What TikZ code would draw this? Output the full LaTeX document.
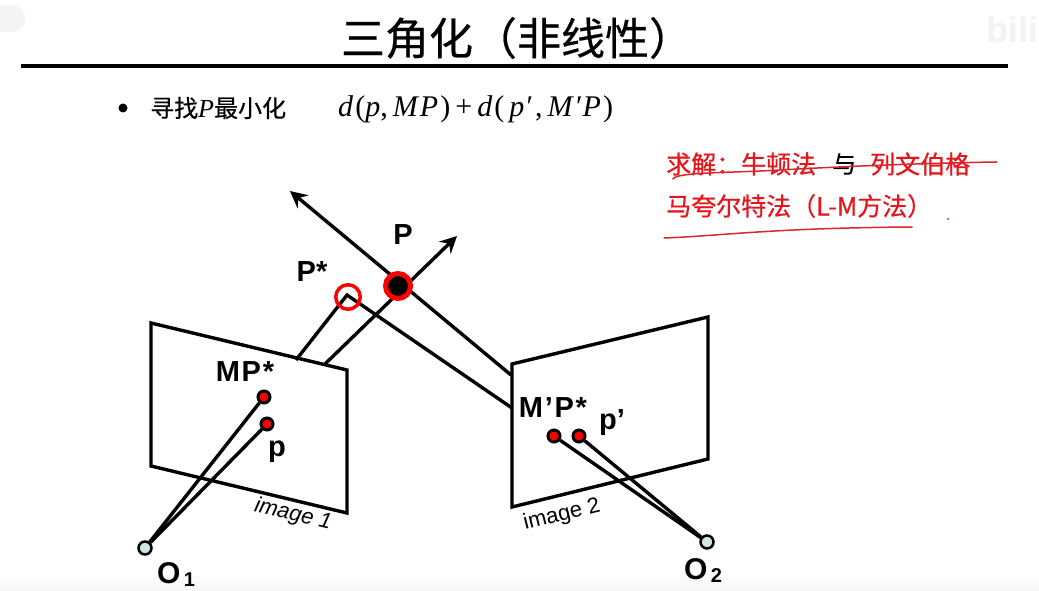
\documentclass[tikz,border=0pt]{standalone}
\usepackage{fontspec}
\setmainfont{Noto Sans CJK SC}
\newfontfamily\heavycn[FakeBold=0.5]{Noto Sans CJK SC}
\newfontfamily\labelfont{Liberation Sans}
\newfontfamily\spacedfont[LetterSpace=6]{Liberation Sans}
\newfontfamily\formulafont[LetterSpace=7]{Liberation Serif}
\newfontfamily\italicp{Liberation Serif}
\usetikzlibrary{arrows.meta,shapes.geometric}
\definecolor{inkred}{HTML}{E8141C}
\definecolor{strokered}{HTML}{D8282C}
\definecolor{camfill}{HTML}{CFE6E6}
\newcommand{\fsz}[1]{\fontsize{#1pt}{#1pt}\selectfont}
\tikzset{
  x=1pt,y=-1pt,
  wire/.style={draw=black,line width=3.4pt,line join=miter},
  ray/.style={wire,-{Stealth[length=17pt,width=17pt,inset=6pt]}},
  imagedot/.style={circle,draw=black,fill=red,line width=3pt,minimum size=12pt,inner sep=0pt},
  camdot/.style={circle,draw=black,fill=camfill,line width=2.5pt,minimum size=13pt,inner sep=0pt},
  tag/.style={inner sep=0pt,font=\labelfont\bfseries\fsz{29}},
  widetag/.style={inner sep=0pt,font=\spacedfont\bfseries\fsz{29}},
  imgtag/.style={inner sep=0pt,font=\labelfont\itshape\fsz{22}},
  cn/.style={inner sep=0pt,anchor=west,font=\heavycn\fsz{24}},
  redcn/.style={inner sep=0pt,anchor=west,text=inkred,font=\heavycn\fsz{25}},
  stroke/.style={draw=strokered,line width=1.5pt,line cap=round},
}
\begin{document}
\begin{tikzpicture}
\useasboundingbox (0,0) rectangle (1039,591);
\fill[white] (0,0) rectangle (1039,591);
\shade[top color=white,bottom color=black!4,draw=none] (0,572) rectangle (1039,591);
\fill[black!4] (-20,5) rectangle (12,32);
\fill[black!4] (12,18.5) circle (13.5);
\node[inner sep=0pt,text=black!5,font=\labelfont\bfseries\fsz{36}] (mark) at (1012,30) {bili};

% heading
\node[inner sep=0pt,font=\heavycn\fsz{44}] (title) at (517,38) {三角化（非线性）};
\coordinate (ruleL) at (21,66.5);
\coordinate (ruleR) at (1008,66.5);
\draw[line width=4pt] (ruleL) -- (ruleR);
\node[circle,fill=black,minimum size=9pt,inner sep=0pt] (bullet) at (123,108) {};
\node[cn] (find) at (150,108) {寻找{\italicp\itshape\fsz{26}P}最小化};
\node[inner sep=0pt,anchor=west,font=\formulafont\fsz{30}] (formula) at (338,109) {\textit{d}(\textit{p},\,\textit{MP})\,+\,\textit{d}(\,\textit{p}′,\,\textit{M}′\textit{P})};

% red note
\node[redcn] (solve) at (666,164) {求解：牛顿法};
\node[inner sep=0pt,anchor=west,font=\heavycn\fsz{24}] (yu) at (832,164) {与};
\node[redcn] (lev) at (870,164) {列文伯格};
\node[redcn] (mar) at (666,206) {马夸尔特法（L-M方法）};
\coordinate (s1) at (673,179);
\coordinate (s2) at (997,162);
\draw[stroke] (s1) .. controls (676,172) and (730,173) .. (780,170) .. controls (850,166) and (930,163) .. (s2);
\coordinate (u1) at (664,238);
\coordinate (u2) at (912,227);
\draw[stroke] (u1) .. controls (720,236) and (770,228) .. (u2);
\fill[strokered] (948,219) circle (1.2);

% image planes
\coordinate (a1) at (151,323);
\coordinate (a2) at (347,370);
\coordinate (a3) at (347,513);
\coordinate (a4) at (151,466);
\draw[wire] (a1) -- (a2) -- (a3) -- (a4) -- cycle;
\coordinate (b1) at (512,364);
\coordinate (b2) at (708,317);
\coordinate (b3) at (708,459);
\coordinate (b4) at (512,507);
\draw[wire] (b1) -- (b2) -- (b3) -- (b4) -- cycle;

% rays
\coordinate (r1) at (511,375);
\coordinate (t1) at (290,191);
\coordinate (r2) at (325,364);
\coordinate (t2) at (457,236);
\draw[ray] (r1) -- (t1);
\draw[ray] (r2) -- (t2);
\coordinate (q1) at (296,360);
\coordinate (q0) at (347,295);
\coordinate (q2) at (512,408);
\draw[wire] (q1) -- (q0) -- (q2);

% points
\node[circle,draw=red,fill=black,line width=5pt,minimum size=25pt,inner sep=0pt] (P) at (398,286) {};
\node[circle,draw=red,line width=3.5pt,minimum size=24.5pt,inner sep=0pt] (Pstar) at (348,297) {};
\node[imagedot] (mp) at (264,397) {};
\node[imagedot] (p1) at (267,424) {};
\node[imagedot] (mpp) at (554,436) {};
\node[imagedot] (p2) at (579,436) {};
\node[camdot] (O1) at (145,548) {};
\node[camdot] (O2) at (707,542) {};
\draw[wire] (O1) -- (mp);
\draw[wire] (O1) -- (p1);
\draw[wire] (O2) -- (mpp);
\draw[wire] (O2) -- (p2);

% labels
\node[tag] (lP) at (403,235) {P};
\node[tag] (lPs) at (312,272) {P*};
\node[widetag] (lMP) at (245,372) {MP*};
\node[tag] (lp) at (277,452) {p};
\node[widetag] (lMPp) at (553,408) {M’P*};
\node[tag] (lpp) at (612,423) {p’};
\node[tag,font=\labelfont\bfseries\fsz{30}] (lO1) at (176,575) {O\raisebox{-3pt}{\fsz{20}\,1}};
\node[tag,font=\labelfont\bfseries\fsz{30}] (lO2) at (703,571) {O\raisebox{-3pt}{\fsz{20}\,2}};
\node[imgtag,rotate=-13] (im1) at (293,515) {image 1};
\node[imgtag,rotate=14,font=\labelfont\fsz{22}] (im2) at (562,515) {image 2};
\end{tikzpicture}
\end{document}
